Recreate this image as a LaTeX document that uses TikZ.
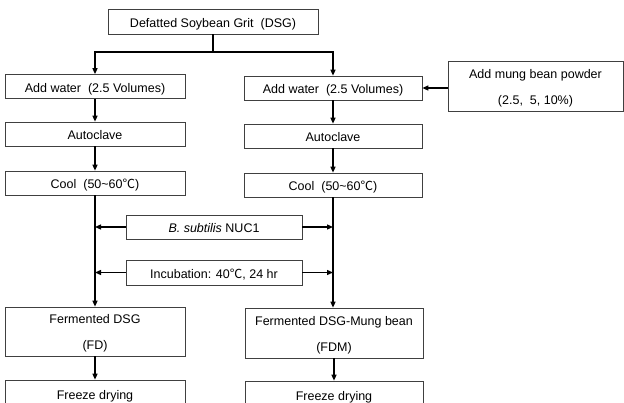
\documentclass[tikz,border=0pt]{standalone}
\usepackage{fontspec}
\setmainfont{Liberation Sans}
\newfontfamily\cjk{Noto Sans CJK SC}
\usetikzlibrary{arrows.meta,calc}
\newcommand{\degc}{{\cjk ℃}}
\tikzset{%
  % Specifications for style of nodes:
    base/.style = {rectangle, draw=black!75, line width=0.7pt,
                   minimum height=24pt, inner sep=0pt,
                   text height=13pt, text depth=2pt,
                   text centered, font=\fontsize{12.5}{26}\selectfont},
    step box/.style = {base, minimum width=180pt},
    side box/.style = {base, minimum width=178pt},
    two line/.style = {base, align=center, minimum height=50pt,
                   text height=38pt, text depth=2pt},
    flow/.style = {line width=1.3pt, black},
    flow arrow/.style = {flow, -{Triangle[length=6pt,width=5pt]}}%
}

\begin{document}
\begin{tikzpicture}[x=1pt,y=-1pt]
\clip (0,0) rectangle (624,402);
\useasboundingbox (0,0) rectangle (624,402);

% start
\node[base, minimum width=210pt, minimum height=25pt] (dsg) at (213,21.5) {Defatted Soybean Grit\ \ (DSG)};
\coordinate (split) at (213,52);

% left column
\node[step box] (waterL) at (95,86.5) {Add water\ \ (2.5 Volumes)};
\node[step box] (autoL) at (95,134) {Autoclave};
\node[step box] (coolL) at (95,183) {Cool\ \ (50\textasciitilde 60\degc)};
\node[step box, two line, minimum height=49pt] (fermL) at (95,331.5) {Fermented DSG\\(FD)};
\node[step box, minimum height=28pt] (freezeL) at (95,394) {Freeze drying};

% right column
\node[side box] (waterR) at (333,88) {Add water\ \ (2.5 Volumes)};
\node[side box] (autoR) at (333,136) {Autoclave};
\node[side box] (coolR) at (333,185) {Cool\ \ (50\textasciitilde 60\degc)};
\node[side box, two line] (fermR) at (334,333) {Fermented DSG-Mung bean\\(FDM)};
\node[side box, minimum height=28pt] (freezeR) at (334,395) {Freeze drying};

% additions
\node[base, two line, minimum width=175pt] (mung) at (535.5,86) {Add mung bean powder\\(2.5,\ \ 5, 10\%)};
\node[base, minimum width=176pt] (bsub) at (214,227) {\textit{B. subtilis} NUC1};
\node[base, minimum width=176pt, minimum height=25pt] (incub) at (214,272.5) {Incubation: 40\degc, 24 hr};

% connectors
\draw[flow] (dsg.south) -- (split);
\draw[flow, {Triangle[length=6pt,width=5pt]}-{Triangle[length=6pt,width=5pt]}] (waterL.north) -- (waterL.north |- split) -- (waterR.north |- split) -- (waterR.north);
\draw[flow arrow] (waterL) -- (autoL);
\draw[flow arrow] (autoL) -- (coolL);
\draw[flow arrow] (coolL) -- (fermL);
\draw[flow arrow] (fermL) -- (freezeL);
\draw[flow arrow] (waterR) -- (autoR);
\draw[flow arrow] (autoR) -- (coolR);
\draw[flow arrow] (coolR.south) -- (coolR.south |- fermR.north);
\draw[flow arrow] (fermR) -- (freezeR);
\draw[flow arrow] (mung.west |- waterR) -- (waterR.east);
\draw[flow arrow] (bsub.west) -- (bsub.west -| coolL);
\draw[flow arrow] (bsub.east) -- (bsub.east -| coolR);
\draw[flow arrow] (incub.west) -- (incub.west -| coolL);
\draw[flow arrow] (incub.east) -- (incub.east -| coolR);

\end{tikzpicture}
\end{document}
